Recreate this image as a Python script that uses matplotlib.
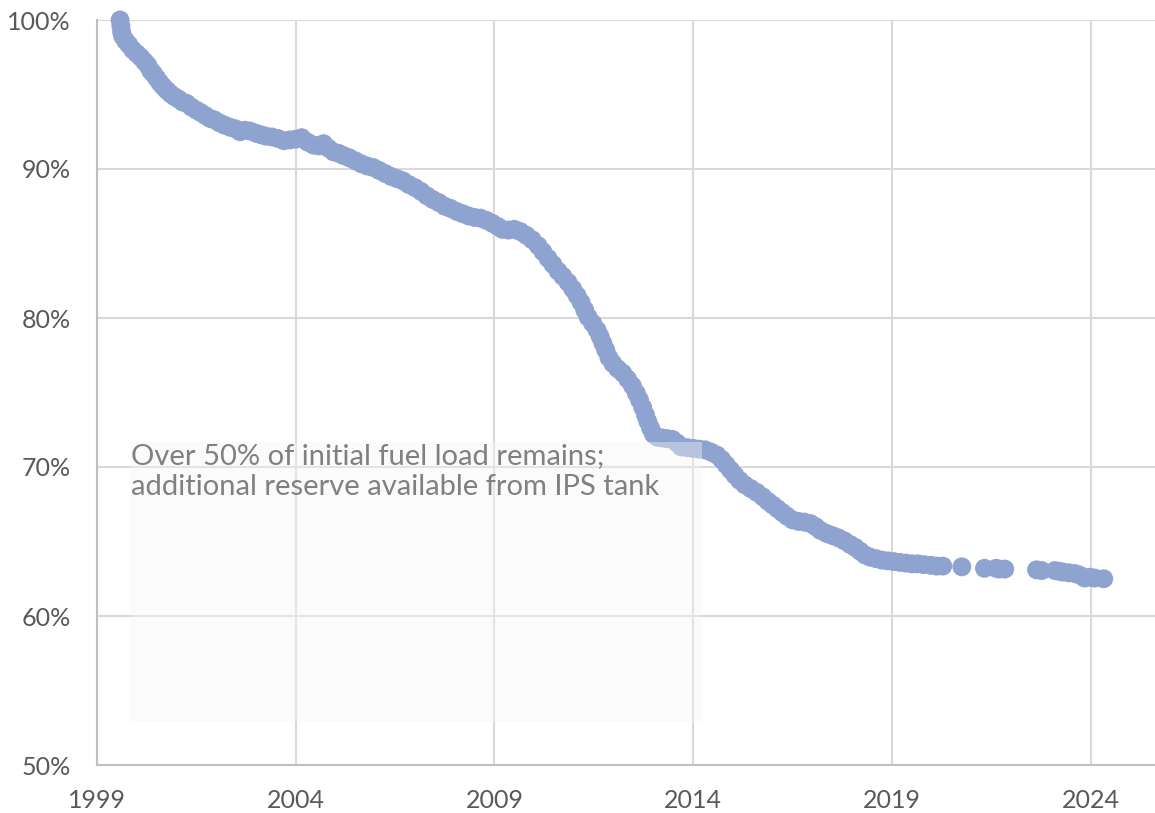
import matplotlib
matplotlib.use("Agg")
import matplotlib.pyplot as plt
from matplotlib.patches import Rectangle

# ---- data ----
years = [
    1999.58, 1999.60, 1999.62, 1999.65, 1999.72, 1999.80, 1999.90, 2000.00, 2000.10, 2000.20,
    2000.28, 2000.35, 2000.42, 2000.50, 2000.58, 2000.66, 2000.75, 2000.85, 2000.95, 2001.05,
    2001.15, 2001.26, 2001.38, 2001.50, 2001.60, 2001.72, 2001.84, 2001.95, 2002.08, 2002.20,
    2002.35, 2002.48, 2002.60, 2002.72, 2002.85, 2003.00, 2003.12, 2003.25, 2003.40, 2003.55,
    2003.70, 2003.85, 2004.00, 2004.15, 2004.30, 2004.45, 2004.58, 2004.70, 2004.82, 2004.95,
    2005.08, 2005.20, 2005.35, 2005.50, 2005.65, 2005.80, 2005.95, 2006.10, 2006.25, 2006.40,
    2006.55, 2006.70, 2006.85, 2007.00, 2007.15, 2007.30, 2007.45, 2007.60, 2007.75, 2007.90,
    2008.05, 2008.20, 2008.35, 2008.50, 2008.65, 2008.80, 2008.95, 2009.08, 2009.20, 2009.35,
    2009.50, 2009.65, 2009.80, 2009.95, 2010.10, 2010.22, 2010.35, 2010.47, 2010.60, 2010.72,
    2010.85, 2010.97, 2011.08, 2011.18, 2011.27, 2011.36, 2011.47, 2011.58, 2011.66, 2011.73,
    2011.80, 2011.88, 2011.98, 2012.10, 2012.23, 2012.35, 2012.47, 2012.57, 2012.65, 2012.73,
    2012.80, 2012.86, 2012.93, 2013.00, 2013.10, 2013.22, 2013.35, 2013.48, 2013.60, 2013.70,
    2013.85, 2014.00, 2014.15, 2014.30, 2014.45, 2014.60, 2014.72, 2014.83, 2014.94, 2015.05,
    2015.17, 2015.30, 2015.45, 2015.60, 2015.75, 2015.88, 2016.00, 2016.12, 2016.24, 2016.36,
    2016.50, 2016.65, 2016.80, 2016.95, 2017.08, 2017.20, 2017.35, 2017.50, 2017.65, 2017.80,
    2017.95, 2018.08, 2018.20, 2018.32, 2018.45, 2018.60, 2018.75, 2018.90, 2019.05, 2019.20,
    2019.35, 2019.50, 2019.65, 2019.80, 2019.98, 2020.12, 2020.28, 2020.76, 2021.33, 2021.62,
    2021.70, 2021.84, 2022.64, 2022.77, 2023.10, 2023.20, 2023.30, 2023.45, 2023.60, 2023.72,
    2023.85, 2023.98, 2024.10, 2024.33,
]
fuel_pct = [
    100.0, 99.6, 99.2, 98.9, 98.6, 98.35, 98.0, 97.75, 97.5, 97.2,
    96.95, 96.6, 96.4, 96.1, 95.8, 95.55, 95.3, 95.05, 94.85, 94.7,
    94.5, 94.4, 94.15, 93.95, 93.8, 93.6, 93.4, 93.3, 93.1, 92.95,
    92.8, 92.7, 92.5, 92.6, 92.55, 92.4, 92.3, 92.2, 92.15, 92.05,
    91.9, 91.95, 92.0, 92.1, 91.8, 91.6, 91.55, 91.7, 91.4, 91.15,
    91.05, 90.9, 90.75, 90.55, 90.35, 90.2, 90.1, 89.9, 89.7, 89.5,
    89.35, 89.2, 88.95, 88.75, 88.5, 88.2, 87.95, 87.75, 87.5, 87.35,
    87.15, 87.0, 86.85, 86.75, 86.7, 86.55, 86.35, 86.15, 85.95, 85.9,
    85.95, 85.8, 85.55, 85.25, 84.85, 84.45, 84.0, 83.6, 83.15, 82.8,
    82.4, 81.95, 81.5, 81.05, 80.55, 80.05, 79.65, 79.2, 78.75, 78.3,
    77.85, 77.35, 76.95, 76.6, 76.3, 75.9, 75.45, 74.95, 74.5, 74.0,
    73.5, 73.05, 72.6, 72.2, 72.0, 71.95, 71.9, 71.85, 71.6, 71.35,
    71.3, 71.25, 71.2, 71.15, 71.0, 70.8, 70.5, 70.15, 69.8, 69.45,
    69.1, 68.8, 68.55, 68.3, 68.0, 67.7, 67.45, 67.2, 66.95, 66.7,
    66.45, 66.35, 66.3, 66.2, 66.0, 65.75, 65.55, 65.4, 65.25, 65.05,
    64.8, 64.6, 64.35, 64.1, 63.95, 63.85, 63.75, 63.7, 63.65, 63.6,
    63.55, 63.5, 63.5, 63.45, 63.4, 63.35, 63.35, 63.3, 63.2, 63.2,
    63.15, 63.15, 63.1, 63.05, 63.05, 63.0, 62.95, 62.9, 62.85, 62.75,
    62.55, 62.6, 62.55, 62.5,
]
x_ticks = [1999, 2004, 2009, 2014, 2019, 2024]
y_ticks = [50, 60, 70, 80, 90, 100]
y_tick_labels = ["50%", "60%", "70%", "80%", "90%", "100%"]
note_text = "Over 50% of initial fuel load remains;\nadditional reserve available from IPS tank"

FONT = ["Lato", "DejaVu Sans"]
plt.rcParams["font.family"] = FONT

W, H = 1155, 813
fig = plt.figure(figsize=(W / 100, H / 100), dpi=100)
ax = fig.add_axes([97 / W, 1 - 765 / H, (W - 97) / W, (765 - 20) / H])

ax.scatter(years, fuel_pct, s=185, color="#8FA3D1", edgecolors="none",
           zorder=3, clip_on=False)

ax.set_xlim(1999, 2025.62)
ax.set_ylim(50, 100)
ax.set_xticks(x_ticks)
ax.set_xticklabels([str(t) for t in x_ticks])
ax.set_yticks(y_ticks)
ax.set_yticklabels(y_tick_labels)
ax.tick_params(axis="both", length=0, labelsize=18, labelcolor="#595959")
ax.tick_params(axis="y", pad=19)
ax.tick_params(axis="x", pad=17)

ax.grid(True, color="#d9d9d9", linewidth=1.5, zorder=0)
ax.set_axisbelow(True)
for s in ["top", "right"]:
    ax.spines[s].set_visible(False)
for s in ["left", "bottom"]:
    ax.spines[s].set_color("#bfbfbf")
    ax.spines[s].set_linewidth(1.5)

# annotation box (semi-transparent overlay)
bx0 = (130 - 97) / (W - 97)
bx1 = (702 - 97) / (W - 97)
by0 = (765 - 722) / (765 - 20)
by1 = (765 - 442) / (765 - 20)
ax.add_patch(Rectangle((bx0, by0), bx1 - bx0, by1 - by0, transform=ax.transAxes,
                       facecolor="#f5f5f5", alpha=0.4, edgecolor="none", zorder=5))
ax.text(bx0 + 0.001, by1 - 0.002, note_text, transform=ax.transAxes,
        ha="left", va="top", fontsize=21, color="#808080", zorder=6,
        linespacing=1.22)

fig.savefig("out.png", dpi=100)
